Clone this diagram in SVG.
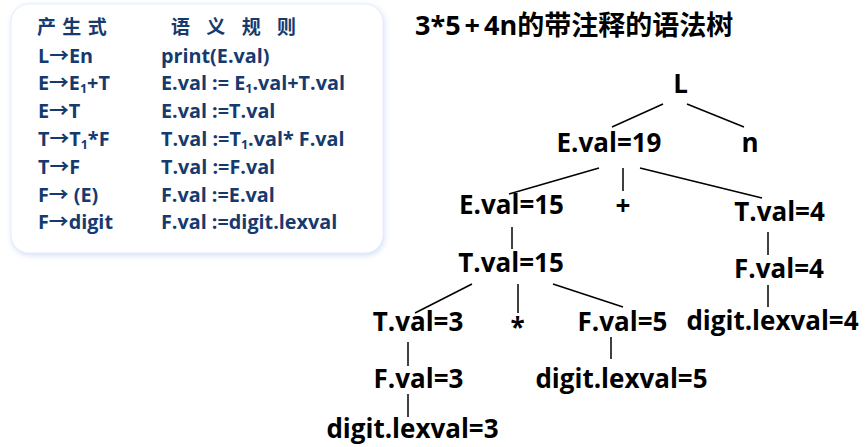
<svg xmlns="http://www.w3.org/2000/svg" width="866" height="447" viewBox="0 0 866 447">
<defs>
<filter id="glow" x="-10%" y="-10%" width="120%" height="120%">
<feGaussianBlur stdDeviation="3"/>
</filter>
<style>
.p{font-family:"Open Sans","Noto Sans CJK SC",sans-serif;font-weight:bold;font-size:19.8px;fill:#163a6e}
.h{font-family:"Noto Sans CJK SC","Open Sans",sans-serif;font-weight:bold;font-size:19px;fill:#163a6e}
.t{font-family:"Open Sans","Noto Sans CJK SC",sans-serif;font-weight:bold;font-size:26px;fill:#000;text-anchor:middle}
.title{font-family:"Open Sans","Noto Sans CJK SC",sans-serif;font-weight:bold;font-size:27px;fill:#000}
.sub{font-size:12.5px}
#edges line{stroke:#000;stroke-width:1.5}
</style>
</defs>
<rect width="866" height="447" fill="#fff"/>
<g id="panel">
<rect x="12" y="6" width="372" height="249" rx="18" fill="#cddbf8" filter="url(#glow)"/>
<rect x="11" y="4" width="372" height="249" rx="18" fill="#fff" stroke="#e6edfc" stroke-width="1"/>
<text class="h" x="37" y="34" letter-spacing="1">产 生 式</text>
<text class="h" x="171" y="34" letter-spacing="6">语 义 规 则</text>
<text class="p" x="38" y="63">L→En</text>
<text class="p" x="161" y="63">print(E.val)</text>
<text class="p" x="38" y="90">E→E<tspan class="sub" dy="3">1</tspan><tspan dy="-3">+T</tspan></text>
<text class="p" x="161" y="90">E.val := E<tspan class="sub" dy="3">1</tspan><tspan dy="-3">.val+T.val</tspan></text>
<text class="p" x="38" y="118">E→T</text>
<text class="p" x="161" y="118">E.val :=T.val</text>
<text class="p" x="38" y="146">T→T<tspan class="sub" dy="3">1</tspan><tspan dy="-3">*F</tspan></text>
<text class="p" x="161" y="146">T.val :=T<tspan class="sub" dy="3">1</tspan><tspan dy="-3">.val* F.val</tspan></text>
<text class="p" x="38" y="174">T→F</text>
<text class="p" x="161" y="174">T.val :=F.val</text>
<text class="p" x="38" y="202">F→ (E)</text>
<text class="p" x="161" y="202">F.val :=E.val</text>
<text class="p" x="38" y="229">F→digit</text>
<text class="p" x="161" y="229">F.val :=digit.lexval</text>
</g>
<text class="title" x="415" y="35">3*5<tspan dx="4">+</tspan><tspan dx="4">4n的带注释的语法树</tspan></text>
<g id="edges">
<line x1="663" y1="104" x2="612" y2="127"/>
<line x1="687" y1="104" x2="744" y2="127"/>
<line x1="599" y1="168" x2="509" y2="194"/>
<line x1="623" y1="168" x2="623" y2="191"/>
<line x1="640" y1="168" x2="762" y2="198"/>
<line x1="512" y1="227" x2="512" y2="249"/>
<line x1="768" y1="232" x2="768" y2="255"/>
<line x1="472" y1="284" x2="415" y2="313"/>
<line x1="518" y1="284" x2="518" y2="313"/>
<line x1="553" y1="284" x2="623" y2="307"/>
<line x1="768" y1="285" x2="768" y2="307"/>
<line x1="408" y1="342" x2="408" y2="366"/>
<line x1="611" y1="337" x2="611" y2="359"/>
<line x1="408" y1="394" x2="408" y2="417"/>
</g>
<g id="n-L"><text class="t" x="680.5" y="93">L</text></g>
<g id="n-E19"><text class="t" x="609" y="152">E.val=19</text></g>
<g id="n-n"><text class="t" x="750" y="152">n</text></g>
<g id="n-E15"><text class="t" x="511.5" y="214">E.val=15</text></g>
<g id="n-plus"><text class="t" x="623" y="215">+</text></g>
<g id="n-T4"><text class="t" x="779.5" y="221">T.val=4</text></g>
<g id="n-T15"><text class="t" x="511" y="272">T.val=15</text></g>
<g id="n-F4"><text class="t" x="779" y="278">F.val=4</text></g>
<g id="n-T3"><text class="t" x="418" y="331">T.val=3</text></g>
<g id="n-star"><text class="t" x="517.5" y="337">*</text></g>
<g id="n-F5"><text class="t" x="622.5" y="331">F.val=5</text></g>
<g id="n-d4"><text class="t" x="772.5" y="330">digit.lexval=4</text></g>
<g id="n-F3"><text class="t" x="418.5" y="388">F.val=3</text></g>
<g id="n-d5"><text class="t" x="621.5" y="388">digit.lexval=5</text></g>
<g id="n-d3"><text class="t" x="412.5" y="438">digit.lexval=3</text></g>
</svg>
